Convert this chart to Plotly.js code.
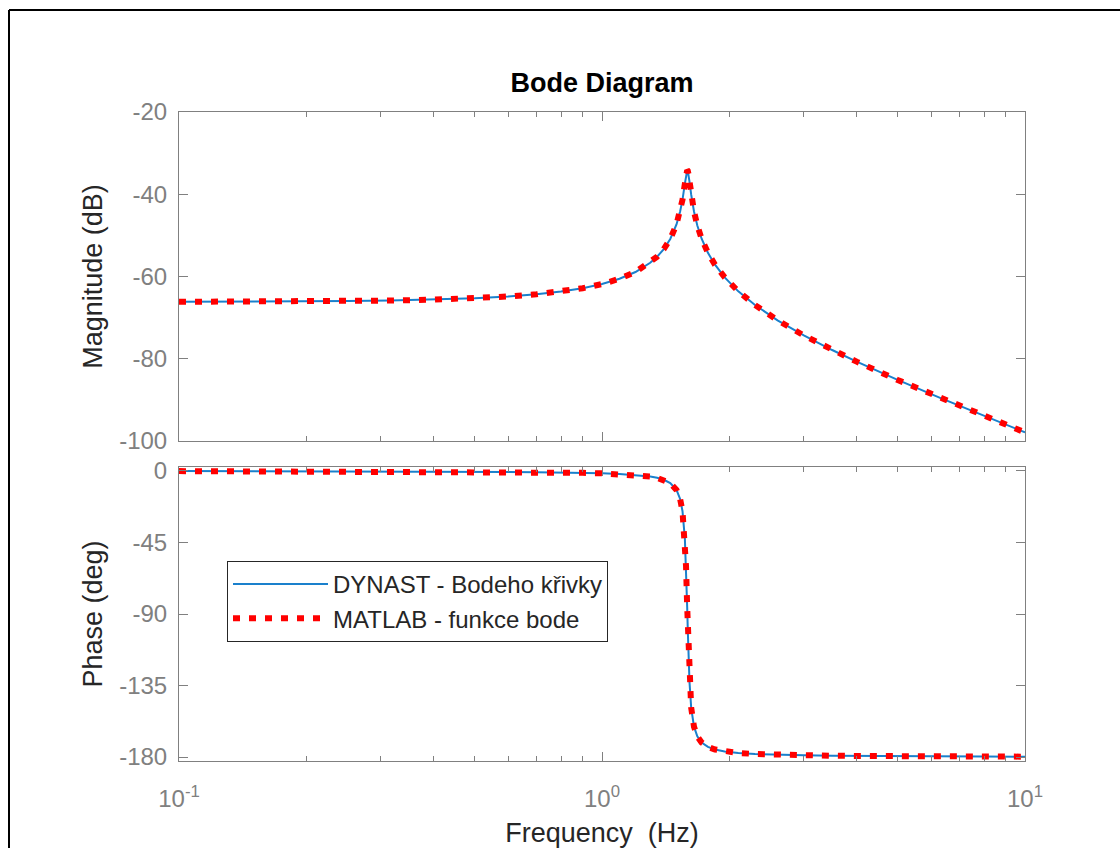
<!DOCTYPE html>
<html>
<head>
<meta charset="utf-8">
<script src="https://cdn.plot.ly/plotly-3.0.1.min.js"></script>
<style>
  html, body { margin: 0; padding: 0; background: #ffffff; }
  #chart { width: 1120px; height: 848px; }
</style>
</head>
<body>
<div id="chart"></div>
<script>
// Frequency samples (Hz)
const freqHz = [0.1, 0.126, 0.158, 0.2, 0.251, 0.316, 0.398, 0.5, 0.6, 0.7, 0.8, 0.9,
  1.0, 1.1, 1.2, 1.3, 1.35, 1.4, 1.45, 1.5, 1.53, 1.55, 1.57, 1.58, 1.59, 1.595, 1.6,
  1.61, 1.625, 1.65, 1.68, 1.72, 1.78, 1.85, 1.95, 2.1, 2.3, 2.6, 3.0, 3.5, 4.0, 5.0,
  6.3, 8.0, 10.0];

// DYNAST - Bode curves
const magDynastDb = [-66.17, -66.15, -66.11, -66.06, -65.98, -65.85, -65.64, -65.30,
  -64.87, -64.33, -63.67, -62.85, -61.84, -60.56, -58.91, -56.66, -55.18, -53.33,
  -50.88, -47.35, -44.21, -41.31, -37.43, -35.36, -34.18, -34.31, -34.93, -36.94,
  -40.11, -44.18, -47.59, -50.82, -54.24, -57.14, -60.22, -63.61, -66.94, -70.65,
  -74.34, -77.88, -80.71, -85.16, -89.53, -93.90, -97.91];
const phaseDynastDeg = [-0.09, -0.11, -0.14, -0.18, -0.23, -0.30, -0.38, -0.50,
  -0.63, -0.78, -0.96, -1.19, -1.49, -1.90, -2.50, -3.51, -4.32, -5.55, -7.64,
  -11.91, -17.59, -25.31, -42.58, -59.86, -85.72, -99.96, -113.06, -132.74, -149.02,
  -160.90, -167.00, -170.86, -173.64, -175.27, -176.50, -177.45, -178.10, -178.60,
  -178.94, -179.18, -179.32, -179.49, -179.61, -179.70, -179.77];

// MATLAB - bode function
const magMatlabDb = [-66.17, -66.15, -66.11, -66.06, -65.98, -65.85, -65.64, -65.30,
  -64.87, -64.33, -63.67, -62.85, -61.84, -60.56, -58.91, -56.66, -55.18, -53.33,
  -50.88, -47.35, -44.21, -41.31, -37.43, -35.36, -34.18, -34.31, -34.93, -36.94,
  -40.11, -44.18, -47.59, -50.82, -54.24, -57.14, -60.22, -63.61, -66.94, -70.65,
  -74.34, -77.88, -80.71, -85.16, -89.53, -93.90, -97.91];
const phaseMatlabDeg = [-0.09, -0.11, -0.14, -0.18, -0.23, -0.30, -0.38, -0.50,
  -0.63, -0.78, -0.96, -1.19, -1.49, -1.90, -2.50, -3.51, -4.32, -5.55, -7.64,
  -11.91, -17.59, -25.31, -42.58, -59.86, -85.72, -99.96, -113.06, -132.74, -149.02,
  -160.90, -167.00, -170.86, -173.64, -175.27, -176.50, -177.45, -178.10, -178.60,
  -178.94, -179.18, -179.32, -179.49, -179.61, -179.70, -179.77];

const seriesNames = ["DYNAST - Bodeho křivky", "MATLAB - funkce bode"];
const freqTickVals = [0.1, 1, 10];
const freqTickText = ["10<sup>-1</sup>", "10<sup>0</sup>", "10<sup>1</sup>"];
const freqMinorVals = [0.2, 0.3, 0.4, 0.5, 0.6, 0.7, 0.8, 0.9, 2, 3, 4, 5, 6, 7, 8, 9];
const magTickVals = [-100, -80, -60, -40, -20];
const magTickText = ["-100", "-80", "-60", "-40", "-20"];
const phaseTickVals = [-180, -135, -90, -45, 0];
const phaseTickText = ["-180", "-135", "-90", "-45", "0"];

const blue = "#1a80cc";
const red = "#ff0000";
const axisGray = "#808080";
const font = "Liberation Sans, Arial, Helvetica, sans-serif";

const traces = [
  { x: freqHz, y: magDynastDb, xaxis: "x", yaxis: "y", mode: "lines", name: seriesNames[0],
    line: { color: blue, width: 2 }, showlegend: true, legendgroup: "d" },
  { x: freqHz, y: magMatlabDb, xaxis: "x", yaxis: "y", mode: "lines", name: seriesNames[1],
    line: { color: red, width: 6, dash: "7px,9px" }, showlegend: true, legendgroup: "m" },
  { x: freqHz, y: phaseDynastDeg, xaxis: "x2", yaxis: "y2", mode: "lines", name: seriesNames[0],
    line: { color: blue, width: 2 }, showlegend: false, legendgroup: "d" },
  { x: freqHz, y: phaseMatlabDeg, xaxis: "x2", yaxis: "y2", mode: "lines", name: seriesNames[1],
    line: { color: red, width: 6, dash: "7px,9px" }, showlegend: false, legendgroup: "m" }
];

const xCommon = {
  type: "log",
  range: [-1, 1],
  tickmode: "array",
  tickvals: freqTickVals,
  ticktext: freqTickText,
  ticks: "inside",
  ticklen: 9,
  tickcolor: axisGray,
  showline: true,
  linecolor: axisGray,
  linewidth: 1,
  mirror: "ticks",
  showgrid: false,
  zeroline: false,
  minor: { tickmode: "array", tickvals: freqMinorVals, ticks: "inside", ticklen: 5, tickcolor: axisGray },
  tickfont: { family: font, size: 24, color: axisGray }
};

const yCommon = {
  ticks: "inside",
  ticklen: 9,
  tickcolor: axisGray,
  showline: true,
  linecolor: axisGray,
  linewidth: 1,
  mirror: "ticks",
  showgrid: false,
  zeroline: false,
  tickfont: { family: font, size: 24, color: axisGray },
  ticklabelstandoff: 6
};

const layout = {
  width: 1120,
  height: 848,
  paper_bgcolor: "#ffffff",
  plot_bgcolor: "#ffffff",
  margin: { l: 179, r: 95, t: 112, b: 87, autoexpand: false },
  showlegend: true,
  title: {
    text: "<b>Bode Diagram</b>",
    font: { family: font, size: 27, color: "#000000" },
    xref: "paper", x: 0.5, xanchor: "center",
    yref: "container", y: 1 - 83 / 848, yanchor: "middle"
  },
  xaxis: Object.assign({}, xCommon, { anchor: "y", showticklabels: false, matches: "x2" }),
  xaxis2: Object.assign({}, xCommon, {
    anchor: "y2",
    showticklabels: true,
    ticklabelstandoff: 16,
    title: { text: "Frequency  (Hz)", font: { family: font, size: 27, color: "#262626" }, standoff: 12 }
  }),
  yaxis: Object.assign({}, yCommon, {
    domain: [0.4931, 1],
    range: [-100, -20],
    tickmode: "array",
    tickvals: magTickVals,
    ticktext: magTickText,
    title: { text: "Magnitude (dB)", font: { family: font, size: 27, color: "#262626" }, standoff: 8 }
  }),
  yaxis2: Object.assign({}, yCommon, {
    domain: [0, 0.4530],
    range: [-182.5, 2.5],
    tickmode: "array",
    tickvals: phaseTickVals,
    ticktext: phaseTickText,
    title: { text: "Phase (deg)", font: { family: font, size: 27, color: "#262626" }, standoff: 8 }
  }),
  legend: {
    x: (227 - 179) / 846, xanchor: "left",
    y: (761 - 561) / 649, yanchor: "top",
    bgcolor: "#ffffff",
    bordercolor: "#262626",
    borderwidth: 1,
    font: { family: font, size: 24, color: "#262626" },
    itemwidth: 95,
    tracegroupgap: 0
  },
  shapes: [
    { type: "line", xref: "paper", yref: "paper",
      x0: (9 - 179) / 846, x1: (1125 - 179) / 846,
      y0: (761 - 10) / 649, y1: (761 - 10) / 649,
      line: { color: "#000000", width: 2 } },
    { type: "line", xref: "paper", yref: "paper",
      x0: (9 - 179) / 846, x1: (9 - 179) / 846,
      y0: (761 - 10) / 649, y1: (761 - 855) / 649,
      line: { color: "#000000", width: 2 } }
  ]
};

Plotly.newPlot("chart", traces, layout, { displayModeBar: false, staticPlot: true });
</script>
</body>
</html>
